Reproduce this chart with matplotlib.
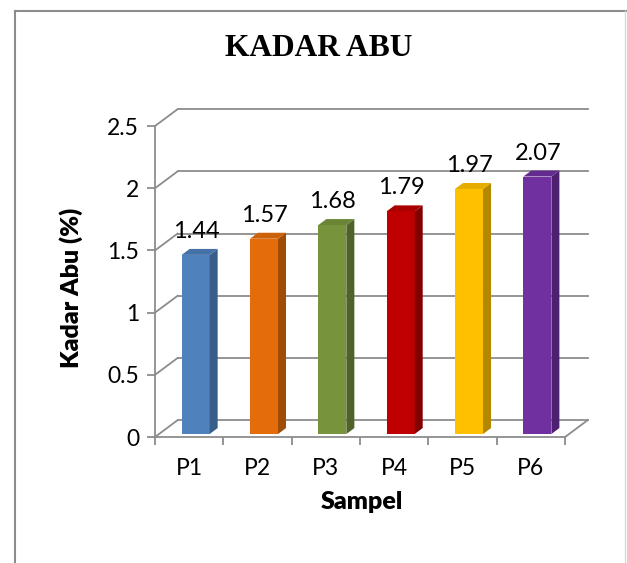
import matplotlib as mpl
mpl.use("Agg")
import matplotlib.pyplot as plt
from matplotlib.patches import Polygon
from matplotlib.lines import Line2D

# data
samples = ["P1", "P2", "P3", "P4", "P5", "P6"]
kadar_abu = [1.44, 1.57, 1.68, 1.79, 1.97, 2.07]
y_ticks = [0, 0.5, 1, 1.5, 2, 2.5]

front_colors = ["#4F81BD", "#E46C0A", "#77933C", "#C00000", "#FFC000", "#7030A0"]
side_colors = ["#385D8A", "#A04C07", "#4F6228", "#820000", "#B38700", "#4E2170"]
top_colors = ["#4472A8", "#CC6109", "#6A8535", "#AA0000", "#E6AD00", "#642B8F"]

grid_col = "#8C8C8C"
DX, DY = 0.33, 0.135        # depth of the back wall (data units)
SX, SY = 0.117, 0.048       # depth of one column
BX, BW, BASE = 0.39, 0.41, 0.024

plt.rcParams["font.family"] = ["Lato", "DejaVu Sans"]

fig = plt.figure(figsize=(6.27, 5.63), dpi=100)
ax = fig.add_axes([0.1927, 0.1575, 0.7739, 0.6739])
ax.set_xlim(-0.5, 6.6)
ax.set_ylim(-0.3, 2.75)

# frame round the chart area
fig.add_artist(Line2D([15 / 627, 15 / 627], [0, 1 - 11 / 563], color="#8C8C8C", lw=1.5,
                      transform=fig.transFigure))
fig.add_artist(Line2D([15 / 627, 626 / 627], [1 - 11 / 563, 1 - 11 / 563], color="#8C8C8C",
                      lw=1.5, transform=fig.transFigure))
fig.add_artist(Line2D([625 / 627, 625 / 627], [0, 1 - 11 / 563], color="#D9D9D9", lw=1,
                      transform=fig.transFigure))

# walls and floor
n = len(samples)
for v in y_ticks:
    ax.plot([0, DX], [v, v + DY], color=grid_col, lw=1.3, zorder=1)
    ax.plot([DX, n + DX], [v + DY, v + DY], color=grid_col, lw=1.3, zorder=1)
ax.plot([n, n + DX], [0, DY], color=grid_col, lw=1.3, zorder=1)

# columns
for i, v in enumerate(kadar_abu):
    x0 = i + BX
    x1 = x0 + BW
    top = v + BASE
    ax.add_patch(Polygon([(x0, BASE), (x1, BASE), (x1, top), (x0, top)],
                         closed=True, fc=front_colors[i], ec="none", zorder=3))
    ax.add_patch(Polygon([(x1, BASE), (x1 + SX, BASE + SY), (x1 + SX, top + SY), (x1, top)],
                         closed=True, fc=side_colors[i], ec="none", zorder=3))
    ax.add_patch(Polygon([(x0, top), (x1, top), (x1 + SX, top + SY), (x0 + SX, top + SY)],
                         closed=True, fc=top_colors[i], ec="none", zorder=3))
    ax.annotate("{:.2f}".format(v), xy=(i + 0.6, top + SY), xytext=(0, 5),
                textcoords="offset points", ha="center", va="bottom", fontsize=17,
                color="black", zorder=4)

# axes
for s in ["top", "right"]:
    ax.spines[s].set_visible(False)
ax.spines["left"].set_position(("data", 0))
ax.spines["bottom"].set_position(("data", 0))
ax.spines["left"].set_bounds(0, 2.5)
ax.spines["bottom"].set_bounds(0, n)
for s in ["left", "bottom"]:
    ax.spines[s].set_color(grid_col)
    ax.spines[s].set_linewidth(1.3)
    ax.spines[s].set_zorder(2)

ax.set_yticks(y_ticks)
ax.set_yticklabels(["0", "0.5", "1", "1.5", "2", "2.5"])
ax.tick_params(axis="y", length=5.5, width=1.3, color=grid_col, labelsize=16.5, pad=6)
ax.set_xticks(range(n + 1))
ax.set_xticklabels([])
ax.set_xticks([i + 0.5 for i in range(n)], minor=True)
ax.set_xticklabels(samples, minor=True)
ax.tick_params(axis="x", which="major", length=6, width=1.3, color=grid_col)
ax.tick_params(axis="x", which="minor", length=0, labelsize=16.5, pad=15)

fig.text(0.508, 1 - 49 / 563, "KADAR ABU", ha="center", va="center", fontsize=22.7,
         fontweight="bold", family="Liberation Serif")
fig.text(71 / 627, 1 - 288 / 563, "Kadar Abu (%)", ha="center", va="center", rotation=90,
         fontsize=18, fontweight="heavy")
fig.text(362 / 627, 1 - 502 / 563, "Sampel", ha="center", va="center", fontsize=18,
         fontweight="heavy")

fig.savefig("out.png", dpi=100)
plt.close(fig)
